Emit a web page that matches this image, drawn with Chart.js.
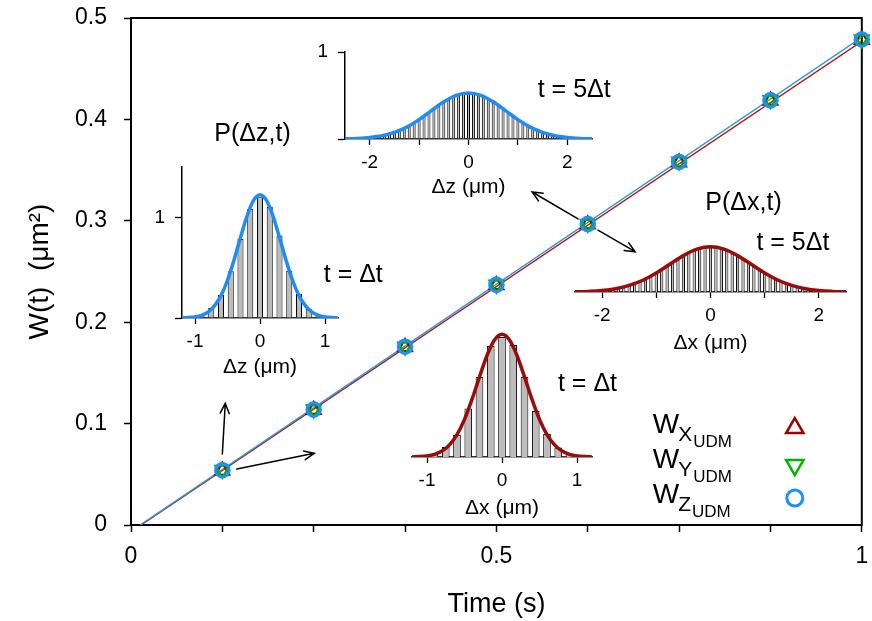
<!DOCTYPE html>
<html><head><meta charset="utf-8">
<script src="https://cdn.jsdelivr.net/npm/chart.js@4.4.1/dist/chart.umd.min.js"></script>
<style>
html,body{margin:0;padding:0;background:#fff;}
#wrap{position:relative;width:872px;height:621px;background:#fff;}
#wrap canvas{position:absolute;left:0;top:0;}
</style></head><body>
<div id="wrap">
<canvas id="main" width="872" height="621"></canvas>
<canvas id="insA" width="872" height="621"></canvas>
<canvas id="insB" width="872" height="621"></canvas>
<canvas id="insC" width="872" height="621"></canvas>
<canvas id="insD" width="872" height="621"></canvas>
</div>
<script>
// ---------- main data ----------
const times = [0.125, 0.25, 0.375, 0.5, 0.625, 0.75, 0.875, 1.0];
const wX = [0.0535, 0.1135, 0.1755, 0.2365, 0.2965, 0.3575, 0.4185, 0.4785];
const wY = [0.0545, 0.1140, 0.1760, 0.2370, 0.2970, 0.3585, 0.4190, 0.4790];
const wZ = [0.0540, 0.1138, 0.1758, 0.2368, 0.2968, 0.3580, 0.4188, 0.4788];
const fitXT = [0.0136, 1.0];
const fitXW = [0, 0.477];
const fitZT = [0.0125, 1.0];
const fitZW = [0, 0.481];
const yTickLabels = ['0', '0.1', '0.2', '0.3', '0.4', '0.5'];
const xTickLabels = ['0', '0.5', '1'];
// arrows (data units of main axes)
const arrowFromT = [0.6117, 0.639, 0.125, 0.1448];
const arrowFromW = [0.3018, 0.2909, 0.070, 0.0552];
const arrowToT = [0.549, 0.6898, 0.129, 0.2507];
const arrowToW = [0.3284, 0.2695, 0.120, 0.0707];
const legendSubs = ['X', 'Y', 'Z'];

// ---------- inset data ----------
const narrowBinX = [-0.9, -0.75, -0.6, -0.45, -0.3, -0.15, 0, 0.15, 0.3, 0.45, 0.6, 0.75, 0.9];
const xBinNarrow = [0.025, 0.10, 0.22, 0.485, 0.80, 1.11, 1.20, 1.12, 0.80, 0.46, 0.23, 0.094, 0.028];
const zBinNarrow = [0.027, 0.10, 0.23, 0.465, 0.785, 1.086, 1.20, 1.105, 0.82, 0.47, 0.24, 0.09, 0.025];
const narrowCurveX = [-1.2, -1.1, -1.0, -0.9, -0.8, -0.7, -0.6, -0.5, -0.4, -0.3, -0.2, -0.1, 0, 0.1, 0.2, 0.3, 0.4, 0.5, 0.6, 0.7, 0.8, 0.9, 1.0, 1.1, 1.2];
const xCurveNarrow = [0.001, 0.004, 0.011, 0.027, 0.059, 0.121, 0.223, 0.376, 0.576, 0.801, 1.015, 1.170, 1.227, 1.170, 1.015, 0.801, 0.576, 0.376, 0.223, 0.121, 0.059, 0.027, 0.011, 0.004, 0.001];
const zCurveNarrow = [0.001, 0.004, 0.011, 0.027, 0.059, 0.120, 0.222, 0.375, 0.575, 0.800, 1.013, 1.168, 1.225, 1.168, 1.013, 0.800, 0.575, 0.375, 0.222, 0.120, 0.059, 0.027, 0.011, 0.004, 0.001];
const wideBinX = [-2.0, -1.9, -1.8, -1.7, -1.6, -1.5, -1.4, -1.3, -1.2, -1.1, -1.0, -0.9, -0.8, -0.7, -0.6, -0.5, -0.4, -0.3, -0.2, -0.1, 0, 0.1, 0.2, 0.3, 0.4, 0.5, 0.6, 0.7, 0.8, 0.9, 1.0, 1.1, 1.2, 1.3, 1.4, 1.5, 1.6, 1.7, 1.8, 1.9, 2.0];
const zBinWide = [0.015, 0.022, 0.030, 0.041, 0.056, 0.073, 0.094, 0.119, 0.148, 0.182, 0.219, 0.258, 0.300, 0.342, 0.382, 0.421, 0.455, 0.483, 0.505, 0.517, 0.522, 0.518, 0.506, 0.484, 0.456, 0.420, 0.383, 0.341, 0.299, 0.259, 0.218, 0.183, 0.149, 0.120, 0.095, 0.074, 0.057, 0.042, 0.031, 0.022, 0.016];
const xBinWide = [0.016, 0.021, 0.031, 0.042, 0.055, 0.074, 0.096, 0.120, 0.150, 0.184, 0.221, 0.260, 0.302, 0.344, 0.386, 0.423, 0.458, 0.486, 0.506, 0.519, 0.523, 0.517, 0.504, 0.482, 0.453, 0.419, 0.381, 0.340, 0.298, 0.257, 0.217, 0.181, 0.147, 0.118, 0.093, 0.073, 0.056, 0.041, 0.030, 0.021, 0.015];
const wideCurveX = [-2.5, -2.25, -2.0, -1.75, -1.5, -1.25, -1.0, -0.75, -0.5, -0.25, 0, 0.25, 0.5, 0.75, 1.0, 1.25, 1.5, 1.75, 2.0, 2.25, 2.5];
const zCurveWide = [0.002, 0.007, 0.017, 0.037, 0.076, 0.137, 0.223, 0.326, 0.427, 0.502, 0.530, 0.502, 0.427, 0.326, 0.223, 0.137, 0.076, 0.037, 0.017, 0.007, 0.002];
const xCurveWide = [0.002, 0.007, 0.017, 0.038, 0.077, 0.138, 0.224, 0.327, 0.428, 0.504, 0.532, 0.504, 0.428, 0.327, 0.224, 0.138, 0.077, 0.038, 0.017, 0.007, 0.002];

// ---------- styles ----------
const FONT = "'Liberation Sans', Arial, Helvetica, sans-serif";
const RED = '#a00000', GREEN = '#00b400', BLUE = '#1e8fff';
const RED_LINE = '#b01818', BLUE_LINE = '#2a98d8';
const CURVE_RED = '#9a0c0c', CURVE_BLUE = '#1e8cf0';
Chart.defaults.font.family = FONT;
Chart.defaults.color = '#000';

const pts = (xs, ys) => xs.map((x, i) => ({x: x, y: ys[i]}));
function fixSize(w, h) {
  return function (s) {
    if (w != null) s.width = w;
    if (h != null) s.height = h;
    s.paddingLeft = 0; s.paddingRight = 0; s.paddingTop = 0; s.paddingBottom = 0;
  };
}

function drawArrow(ctx, x1, y1, x2, y2) {
  const ang = Math.atan2(y2 - y1, x2 - x1), L = 11, A = 0.42;
  ctx.beginPath();
  ctx.moveTo(x1, y1); ctx.lineTo(x2, y2);
  ctx.moveTo(x2 - L * Math.cos(ang - A), y2 - L * Math.sin(ang - A));
  ctx.lineTo(x2, y2);
  ctx.lineTo(x2 - L * Math.cos(ang + A), y2 - L * Math.sin(ang + A));
  ctx.stroke();
}

const boxPlugin = {
  id: 'box',
  beforeDatasetsDraw(c) {
    const a = c.chartArea, ctx = c.ctx;
    ctx.save(); ctx.strokeStyle = '#000'; ctx.lineWidth = 2;
    ctx.strokeRect(a.left, a.top, a.right - a.left, a.bottom - a.top);
    ctx.restore();
  }
};
const arrowPlugin = {
  id: 'arrows',
  afterDatasetsDraw(c) {
    const ctx = c.ctx, xs = c.scales.x, ys = c.scales.y;
    ctx.save(); ctx.strokeStyle = '#000'; ctx.lineWidth = 1.5; ctx.lineCap = 'round'; ctx.lineJoin = 'miter';
    for (let i = 0; i < arrowFromT.length; i++) {
      drawArrow(ctx, xs.getPixelForValue(arrowFromT[i]), ys.getPixelForValue(arrowFromW[i]),
        xs.getPixelForValue(arrowToT[i]), ys.getPixelForValue(arrowToW[i]));
    }
    ctx.restore();
  }
};
const legendPlugin = {
  id: 'customLegend',
  afterDraw(c) {
    const ctx = c.ctx, a = c.chartArea;
    const styles = [
      {pointStyle: 'triangle', rotation: 0, radius: 10, borderWidth: 2.5, color: RED, dy: -5},
      {pointStyle: 'triangle', rotation: 180, radius: 10, borderWidth: 2.5, color: GREEN, dy: -3},
      {pointStyle: 'circle', rotation: 0, radius: 8, borderWidth: 3, color: BLUE, dy: -5}
    ];
    const x0 = a.right - 209, y0 = a.bottom - 92, step = 35;
    ctx.save();
    ctx.fillStyle = '#000'; ctx.textBaseline = 'alphabetic'; ctx.textAlign = 'left';
    for (let i = 0; i < legendSubs.length; i++) {
      const y = y0 + i * step;
      ctx.font = '28px ' + FONT;
      ctx.fillText('W', x0, y);
      const w1 = ctx.measureText('W').width;
      ctx.font = '21px ' + FONT;
      ctx.fillText(legendSubs[i], x0 + w1 - 1, y + 8);
      const w2 = ctx.measureText(legendSubs[i]).width;
      ctx.font = '17px ' + FONT;
      ctx.fillText('UDM', x0 + w1 + w2, y + 14);
      const s = styles[i];
      ctx.strokeStyle = s.color; ctx.fillStyle = 'rgba(0,0,0,0)'; ctx.lineWidth = s.borderWidth;
      Chart.helpers.drawPoint(ctx, {pointStyle: s.pointStyle, rotation: s.rotation, radius: s.radius, borderWidth: s.borderWidth},
        a.right - 67, y + s.dy);
      ctx.fillStyle = '#000';
    }
    ctx.restore();
  }
};

new Chart(document.getElementById('main'), {
  type: 'scatter',
  data: {datasets: [
    {label: 'W_Z', data: pts(times, wZ), pointStyle: 'circle', pointRadius: 6.8, borderWidth: 3,
      borderColor: BLUE, backgroundColor: 'rgba(0,0,0,0)', clip: false},
    {label: 'W_Y', data: pts(times, wY), pointStyle: 'triangle', pointRotation: 180, pointRadius: 8, borderWidth: 2.2,
      borderColor: GREEN, backgroundColor: 'rgba(0,0,0,0)', clip: false},
    {label: 'W_X', data: pts(times, wX), pointStyle: 'triangle', pointRadius: 8, borderWidth: 2.2,
      borderColor: RED, backgroundColor: 'rgba(0,0,0,0)', clip: false},
    {type: 'line', label: 'fitZ', data: pts(fitZT, fitZW), borderColor: BLUE_LINE, borderWidth: 1.5, pointRadius: 0, fill: false},
    {type: 'line', label: 'fitX', data: pts(fitXT, fitXW), borderColor: RED_LINE, borderWidth: 1.5, pointRadius: 0, fill: false}
  ]},
  options: {
    responsive: false, animation: false, events: [],
    layout: {padding: {left: 0, top: 18, right: 7, bottom: 0}},
    plugins: {legend: {display: false}, tooltip: {enabled: false}},
    scales: {
      x: {
        type: 'linear', min: 0, max: 1,
        ticks: {stepSize: 0.125, autoSkip: false, maxRotation: 0, font: {size: 23}, color: '#000', padding: 11,
          callback: (v) => { const r = Math.round(v * 2); return Math.abs(v * 2 - r) < 1e-6 ? xTickLabels[r] : ''; }},
        grid: {drawOnChartArea: false, tickLength: 7, tickColor: '#000', tickWidth: 1.5},
        border: {color: '#000', width: 2},
        title: {display: true, text: 'Time (s)', font: {size: 27}, color: '#000', padding: {top: 0, bottom: 0}},
        afterFit: fixSize(null, 96)
      },
      y: {
        type: 'linear', min: 0, max: 0.5,
        ticks: {stepSize: 0.1, font: {size: 23}, color: '#000', padding: 17,
          callback: (v) => yTickLabels[Math.round(v * 10)]},
        grid: {drawOnChartArea: false, tickLength: 7, tickColor: '#000', tickWidth: 1.5},
        border: {color: '#000', width: 2},
        title: {display: true, text: 'W(t)  (μm²)', font: {size: 28}, color: '#000', padding: {top: 23, bottom: 0}},
        afterFit: fixSize(131, null)
      }
    }
  },
  plugins: [boxPlugin, arrowPlugin, legendPlugin]
});

const insetTextPlugin = {
  id: 'insetText',
  afterDraw(c) {
    const items = c.config.options.insetTexts || [];
    const ctx = c.ctx, xs = c.scales.x, ys = c.scales.y;
    ctx.save(); ctx.fillStyle = '#000'; ctx.textAlign = 'center'; ctx.textBaseline = 'middle';
    for (const t of items) {
      ctx.font = t.size + 'px ' + FONT;
      ctx.fillText(t.text, xs.getPixelForValue(t.x), ys.getPixelForValue(t.y));
    }
    ctx.restore();
  }
};

function makeInset(id, cfg) {
  new Chart(document.getElementById(id), {
    type: 'bar',
    data: {datasets: [
      {type: 'line', data: pts(cfg.curveX, cfg.curveY), borderColor: cfg.color, borderWidth: 3.5, pointRadius: 0,
        cubicInterpolationMode: 'monotone', fill: false, order: 0},
      {type: 'bar', data: pts(cfg.binX, cfg.binY), backgroundColor: '#bcbcbc', borderColor: '#000', borderWidth: 1,
        barPercentage: 1, categoryPercentage: cfg.barFrac, order: 1}
    ]},
    options: {
      responsive: false, animation: false, events: [],
      insetTexts: cfg.texts,
      layout: {padding: cfg.padding},
      plugins: {legend: {display: false}, tooltip: {enabled: false}},
      scales: {
        x: {
          type: 'linear', min: cfg.xMin, max: cfg.xMax, offset: false,
          afterBuildTicks: (s) => { s.ticks = cfg.xTicks.map(v => ({value: v})); },
          ticks: {font: {size: 19}, color: '#000', padding: 6, maxRotation: 0, autoSkip: false,
            callback: (v) => (cfg.xLabels.indexOf(v) >= 0 ? String(v) : '')},
          grid: {offset: false, drawOnChartArea: false, tickLength: 6, tickColor: '#000', tickWidth: 1.3},
          border: {color: '#333', width: 1.5},
          title: {display: true, text: cfg.xTitle, font: {size: 21}, color: '#000', padding: {top: 0, bottom: 0}},
          afterFit: fixSize(null, cfg.xH)
        },
        y: {
          type: 'linear', display: cfg.showY, min: 0, max: cfg.yMax,
          afterBuildTicks: (s) => { s.ticks = [{value: 0}, {value: 1}]; },
          ticks: {font: {size: 19}, color: '#000', padding: 10, callback: (v) => (v === 1 ? '1' : '')},
          grid: {drawOnChartArea: false, tickLength: 7, tickColor: '#000', tickWidth: 1.3},
          border: {color: '#000', width: 1.5},
          afterFit: fixSize(cfg.showY ? 40 : 0, null)
        }
      }
    },
    plugins: [insetTextPlugin]
  });
}

// top inset: P(dz, 5dt)
makeInset('insA', {
  curveX: wideCurveX, curveY: zCurveWide, binX: wideBinX, binY: zBinWide, color: CURVE_BLUE, barFrac: 0.6,
  xMin: -2.5, xMax: 2.5, xTicks: [-2, -1, 0, 1, 2], xLabels: [-2, 0, 2], xTitle: 'Δz (μm)', xH: 61,
  showY: true, yMax: 1,
  padding: {left: 305, right: 280, top: 52, bottom: 421},
  texts: [{text: 't = 5Δt', x: 2.14, y: 0.56, size: 25}]
});
// left inset: P(dz, dt)
makeInset('insB', {
  curveX: narrowCurveX, curveY: zCurveNarrow, binX: narrowBinX, binY: zBinNarrow, color: CURVE_BLUE, barFrac: 0.62,
  xMin: -1.2, xMax: 1.2, xTicks: [-1, 0, 1], xLabels: [-1, 0, 1], xTitle: 'Δz (μm)', xH: 62,
  showY: true, yMax: 1.5,
  padding: {left: 142, right: 534, top: 167, bottom: 241},
  texts: [{text: 't = Δt', x: 1.435, y: 0.423, size: 25}, {text: 'P(Δz,t)', x: -0.115, y: 1.83, size: 25}]
});
// right inset: P(dx, 5dt)
makeInset('insC', {
  curveX: wideCurveX, curveY: xCurveWide, binX: wideBinX, binY: xBinWide, color: CURVE_RED, barFrac: 0.6,
  xMin: -2.5, xMax: 2.5, xTicks: [-2, -1, 0, 1, 2], xLabels: [-2, 0, 2], xTitle: 'Δx (μm)', xH: 64,
  showY: false, yMax: 1,
  padding: {left: 575, right: 26, top: 207, bottom: 265},
  texts: [{text: 'P(Δx,t)', x: 0.61, y: 1.045, size: 25}, {text: 't = 5Δt', x: 1.52, y: 0.575, size: 25}]
});
// bottom inset: P(dx, dt)
makeInset('insD', {
  curveX: narrowCurveX, curveY: xCurveNarrow, binX: narrowBinX, binY: xBinNarrow, color: CURVE_RED, barFrac: 0.68,
  xMin: -1.2, xMax: 1.2, xTicks: [-1, 0, 1], xLabels: [-1, 0, 1], xTitle: 'Δx (μm)', xH: 64,
  showY: false, yMax: 1.3,
  padding: {left: 412, right: 280, top: 327, bottom: 100},
  texts: [{text: 't = Δt', x: 1.14, y: 0.727, size: 25}]
});
</script>
</body></html>
